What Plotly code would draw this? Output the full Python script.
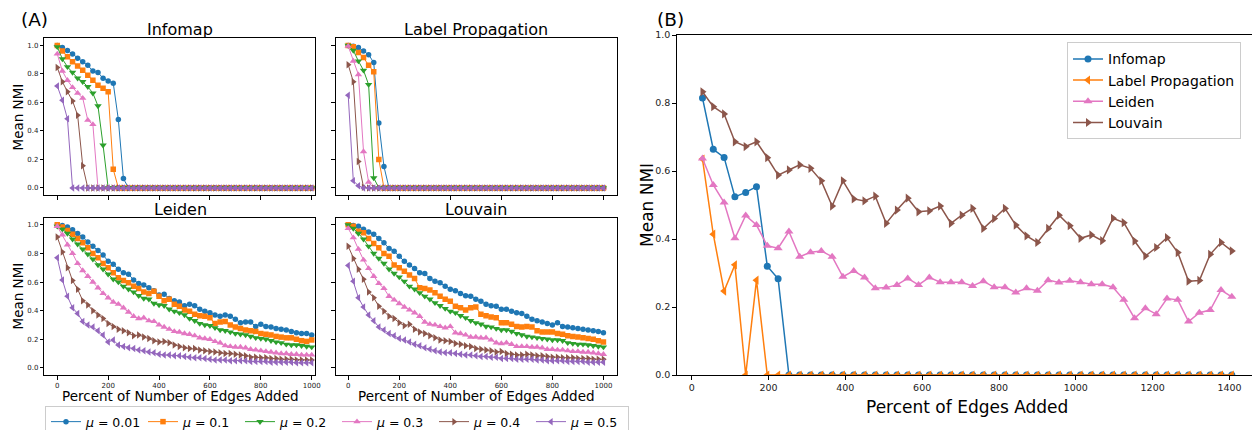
import plotly.graph_objects as go

# The page body adds an 8 px margin, so the figure is drawn 8 px smaller
# and every target pixel position is shifted by that offset.
VW, VH = 1260, 430
OFF = 8
W, H = VW - OFF, VH - OFF
FONT = "DejaVu Sans"

# ---------------- data ----------------
x_a = list(range(0, 1001, 20))
x_b = [round(28.12 * k, 1) for k in range(1, 51)]

mu_labels = ["0.01", "0.1", "0.2", "0.3", "0.4", "0.5"]
colors = ["#1f77b4", "#ff7f0e", "#2ca02c", "#e377c2", "#8c564b", "#9467bd"]
symbols = ["circle", "square", "triangle-down", "triangle-up", "triangle-right", "triangle-left"]

infomap_a = [
    [1.0, 0.985, 0.965, 0.94, 0.91, 0.885, 0.86, 0.82, 0.81, 0.77, 0.75, 0.735, 0.48, 0.065] + [0.0] * 37,
    [1.0, 0.96, 0.92, 0.885, 0.855, 0.825, 0.79, 0.755, 0.72, 0.70, 0.675, 0.13] + [0.0] * 39,
    [0.99, 0.905, 0.85, 0.81, 0.77, 0.745, 0.71, 0.665, 0.575, 0.30] + [0.0] * 41,
    [0.94, 0.82, 0.755, 0.705, 0.665, 0.63, 0.475, 0.445] + [0.0] * 43,
    [0.845, 0.745, 0.675, 0.61, 0.51, 0.155] + [0.0] * 45,
    [0.715, 0.615, 0.485] + [0.0] * 48,
]

labelprop_a = [
    [1.0, 0.995, 0.985, 0.96, 0.935, 0.88, 0.455, 0.15] + [0.0] * 43,
    [1.0, 0.99, 0.95, 0.915, 0.86, 0.815, 0.20] + [0.0] * 44,
    [1.0, 0.965, 0.89, 0.825, 0.725, 0.07] + [0.0] * 45,
    [0.995, 0.89, 0.795, 0.255, 0.04] + [0.0] * 46,
    [0.865, 0.745, 0.185, 0.005] + [0.0] * 47,
    [0.65, 0.05, 0.015] + [0.0] * 48,
]

leiden_a = [
    [1.0, 0.995, 0.985, 0.965, 0.94, 0.915, 0.88, 0.85, 0.82, 0.79, 0.745, 0.725, 0.69, 0.665, 0.655,
     0.615, 0.59, 0.58, 0.56, 0.54, 0.51, 0.515, 0.485, 0.47, 0.46, 0.435, 0.445, 0.435, 0.41, 0.395,
     0.385, 0.37, 0.36, 0.37, 0.36, 0.34, 0.315, 0.32, 0.32, 0.29, 0.305, 0.29, 0.285, 0.275, 0.27,
     0.265, 0.255, 0.245, 0.24, 0.24, 0.23],
    [1.0, 0.985, 0.96, 0.935, 0.905, 0.875, 0.84, 0.80, 0.77, 0.73, 0.70, 0.665, 0.63, 0.61, 0.595,
     0.57, 0.555, 0.53, 0.52, 0.535, 0.50, 0.47, 0.48, 0.445, 0.43, 0.405, 0.395, 0.375, 0.365, 0.36,
     0.35, 0.31, 0.32, 0.325, 0.30, 0.285, 0.275, 0.265, 0.26, 0.255, 0.24, 0.235, 0.23, 0.22, 0.215,
     0.21, 0.21, 0.20, 0.19, 0.185, 0.195],
    [0.99, 0.97, 0.94, 0.90, 0.865, 0.83, 0.795, 0.76, 0.72, 0.69, 0.655, 0.62, 0.60, 0.57, 0.55,
     0.53, 0.505, 0.485, 0.48, 0.45, 0.44, 0.435, 0.41, 0.395, 0.385, 0.37, 0.345, 0.33, 0.31, 0.30,
     0.295, 0.28, 0.265, 0.26, 0.25, 0.24, 0.235, 0.23, 0.22, 0.21, 0.205, 0.20, 0.19, 0.18, 0.175,
     0.165, 0.16, 0.16, 0.155, 0.15, 0.145],
    [0.99, 0.93, 0.86, 0.80, 0.73, 0.68, 0.64, 0.60, 0.56, 0.52, 0.49, 0.46, 0.445, 0.42, 0.39,
     0.36, 0.345, 0.35, 0.33, 0.325, 0.30, 0.285, 0.27, 0.255, 0.25, 0.24, 0.235, 0.225, 0.21, 0.205,
     0.20, 0.185, 0.175, 0.155, 0.15, 0.145, 0.145, 0.14, 0.13, 0.125, 0.12, 0.115, 0.11, 0.105, 0.10,
     0.10, 0.095, 0.095, 0.09, 0.09, 0.09],
    [0.915, 0.81, 0.70, 0.61, 0.55, 0.47, 0.44, 0.40, 0.37, 0.345, 0.31, 0.29, 0.27, 0.26, 0.245,
     0.225, 0.23, 0.215, 0.205, 0.19, 0.18, 0.185, 0.175, 0.16, 0.15, 0.14, 0.135, 0.135, 0.125, 0.12,
     0.115, 0.11, 0.105, 0.10, 0.10, 0.095, 0.09, 0.085, 0.075, 0.075, 0.07, 0.07, 0.065, 0.065, 0.06,
     0.06, 0.06, 0.055, 0.055, 0.055, 0.055],
    [0.77, 0.615, 0.50, 0.42, 0.38, 0.325, 0.30, 0.285, 0.26, 0.23, 0.18, 0.195, 0.16, 0.15, 0.14,
     0.135, 0.125, 0.12, 0.11, 0.105, 0.095, 0.09, 0.09, 0.085, 0.085, 0.08, 0.075, 0.07, 0.07, 0.065,
     0.06, 0.055, 0.055, 0.055, 0.05, 0.05, 0.05, 0.05, 0.045, 0.045, 0.045, 0.045, 0.04, 0.04, 0.04,
     0.04, 0.04, 0.035, 0.035, 0.035, 0.035],
]

louvain_a = [
    [1.0, 0.995, 0.99, 0.97, 0.95, 0.935, 0.905, 0.875, 0.835, 0.815, 0.78, 0.745, 0.72, 0.695, 0.665,
     0.66, 0.625, 0.605, 0.595, 0.57, 0.55, 0.54, 0.52, 0.505, 0.5, 0.48, 0.465, 0.445, 0.435, 0.43,
     0.41, 0.41, 0.395, 0.385, 0.38, 0.36, 0.34, 0.33, 0.32, 0.31, 0.30, 0.315, 0.29, 0.285, 0.28,
     0.275, 0.27, 0.265, 0.26, 0.255, 0.245],
    [1.0, 0.99, 0.955, 0.945, 0.905, 0.87, 0.84, 0.80, 0.78, 0.72, 0.70, 0.675, 0.65, 0.625, 0.56,
     0.555, 0.545, 0.525, 0.5, 0.48, 0.465, 0.43, 0.42, 0.405, 0.42, 0.425, 0.375, 0.365, 0.355, 0.35,
     0.315, 0.315, 0.305, 0.29, 0.285, 0.29, 0.285, 0.26, 0.25, 0.25, 0.25, 0.24, 0.235, 0.225, 0.22,
     0.215, 0.21, 0.205, 0.2, 0.19, 0.18],
    [1.0, 0.975, 0.94, 0.9, 0.85, 0.80, 0.765, 0.73, 0.69, 0.66, 0.635, 0.605, 0.57, 0.55, 0.525,
     0.5, 0.48, 0.455, 0.435, 0.415, 0.395, 0.385, 0.365, 0.35, 0.33, 0.315, 0.305, 0.29, 0.285, 0.275,
     0.265, 0.265, 0.255, 0.24, 0.23, 0.22, 0.215, 0.21, 0.205, 0.2, 0.195, 0.195, 0.19, 0.175, 0.17,
     0.165, 0.165, 0.16, 0.155, 0.15, 0.145],
    [0.975, 0.91, 0.83, 0.755, 0.695, 0.64, 0.59, 0.555, 0.5, 0.475, 0.45, 0.425, 0.405, 0.385, 0.36,
     0.32, 0.305, 0.3, 0.29, 0.28, 0.29, 0.245, 0.24, 0.23, 0.215, 0.215, 0.21, 0.21, 0.195, 0.175,
     0.17, 0.175, 0.165, 0.15, 0.15, 0.15, 0.145, 0.145, 0.14, 0.13, 0.13, 0.125, 0.125, 0.12, 0.115,
     0.115, 0.11, 0.11, 0.105, 0.1, 0.095],
    [0.85, 0.765, 0.69, 0.62, 0.53, 0.49, 0.43, 0.395, 0.36, 0.345, 0.315, 0.295, 0.305, 0.27, 0.25,
     0.24, 0.225, 0.21, 0.195, 0.19, 0.185, 0.17, 0.165, 0.155, 0.15, 0.135, 0.13, 0.125, 0.12, 0.11,
     0.115, 0.1, 0.095, 0.09, 0.09, 0.095, 0.09, 0.085, 0.085, 0.08, 0.075, 0.075, 0.07, 0.07, 0.07,
     0.065, 0.065, 0.065, 0.06, 0.06, 0.06],
    [0.715, 0.605, 0.49, 0.425, 0.37, 0.33, 0.285, 0.265, 0.24, 0.225, 0.205, 0.195, 0.18, 0.165, 0.155,
     0.14, 0.13, 0.12, 0.11, 0.105, 0.105, 0.1, 0.095, 0.09, 0.09, 0.085, 0.08, 0.08, 0.075, 0.075,
     0.065, 0.065, 0.065, 0.06, 0.06, 0.06, 0.06, 0.055, 0.055, 0.05, 0.05, 0.05, 0.05, 0.045, 0.045,
     0.045, 0.045, 0.04, 0.04, 0.04, 0.04],
]

b_names = ["Infomap", "Label Propagation", "Leiden", "Louvain"]
b_colors = ["#1f77b4", "#ff7f0e", "#e377c2", "#8c564b"]
b_symbols = ["circle", "triangle-left", "triangle-up", "triangle-right"]
b_infomap = [0.815, 0.664, 0.64, 0.524, 0.537, 0.554, 0.32, 0.283] + [0.0] * 42
b_labelprop = [0.635, 0.414, 0.247, 0.324, 0.0, 0.279] + [0.0] * 44
b_leiden = [0.637, 0.559, 0.507, 0.402, 0.469, 0.441, 0.38, 0.373, 0.422, 0.348,
            0.361, 0.365, 0.348, 0.289, 0.306, 0.287, 0.255, 0.257, 0.265, 0.284,
            0.265, 0.287, 0.273, 0.273, 0.273, 0.262, 0.276, 0.258, 0.258, 0.243,
            0.255, 0.248, 0.279, 0.272, 0.277, 0.273, 0.267, 0.267, 0.258, 0.221,
            0.167, 0.196, 0.179, 0.225, 0.221, 0.157, 0.183, 0.191, 0.25, 0.23]
b_louvain = [0.833, 0.789, 0.768, 0.686, 0.672, 0.686, 0.639, 0.588, 0.603, 0.618,
             0.608, 0.571, 0.497, 0.571, 0.518, 0.512, 0.526, 0.446, 0.485, 0.52,
             0.48, 0.483, 0.497, 0.446, 0.47, 0.49, 0.431, 0.46, 0.49, 0.441,
             0.409, 0.39, 0.431, 0.47, 0.439, 0.402, 0.412, 0.395, 0.461, 0.448,
             0.394, 0.35, 0.375, 0.404, 0.36, 0.276, 0.278, 0.355, 0.39, 0.365]
b_series = [b_infomap, b_labelprop, b_leiden, b_louvain]

a_titles = ["Infomap", "Label Propagation", "Leiden", "Louvain"]
a_data = [infomap_a, labelprop_a, leiden_a, louvain_a]

# ---------------- figure ----------------
fig = go.Figure()

axis_ids = ["", "2", "3", "4"]
for p, (data, ax) in enumerate(zip(a_data, axis_ids)):
    for i in range(6):
        sz = 5.5 if i < 2 else 6.5
        fig.add_trace(go.Scatter(
            x=x_a, y=data[i], mode="lines+markers",
            name="<i>\u03bc</i> = " + mu_labels[i],
            line=dict(color=colors[i], width=1),
            marker=dict(symbol=symbols[i], size=sz, color=colors[i]),
            xaxis="x" + ax, yaxis="y" + ax,
            showlegend=(p == 0), legend="legend",
        ))

for j in range(4):
    fig.add_trace(go.Scatter(
        x=x_b, y=b_series[j], mode="lines+markers", name=b_names[j],
        line=dict(color=b_colors[j], width=1.5),
        marker=dict(symbol=b_symbols[j], size=7 if j == 0 else 8, color=b_colors[j]),
        xaxis="x5", yaxis="y5", legend="legend2",
    ))


def fx(px):
    return (px - OFF) / W


def fy(py):
    return 1 - (py - OFF) / H


def xd(l, r):
    return [fx(l), fx(r)]


def yd(t, b):
    return [fy(b), fy(t)]


base = dict(showline=True, linecolor="black", linewidth=1, mirror=True,
            ticks="outside", ticklen=3.5, tickwidth=0.8, tickcolor="black",
            showgrid=False, zeroline=False)
small_font = dict(family=FONT, size=7, color="#222")

ticks_x_a = [0, 200, 400, 600, 800, 1000]
ticks_y = [0.0, 0.2, 0.4, 0.6, 0.8, 1.0]

panels = {
    "": dict(x=(44.3, 315), y=(38.3, 195), xr=[-51, 1013], xl=False, yl=True),
    "2": dict(x=(335.7, 616.7), y=(38.3, 195), xr=[-49, 1052], xl=False, yl=False),
    "3": dict(x=(44.3, 315), y=(217.7, 375), xr=[-51, 1013], xl=True, yl=True),
    "4": dict(x=(335.7, 616.7), y=(217.7, 375), xr=[-49, 1052], xl=True, yl=False),
}
layout_axes = {}
for ax, p in panels.items():
    layout_axes["xaxis" + ax] = dict(base, domain=xd(*p["x"]), range=p["xr"], tickvals=ticks_x_a,
                                     showticklabels=p["xl"], tickfont=small_font,
                                     anchor="y" + ax)
    layout_axes["yaxis" + ax] = dict(base, domain=yd(*p["y"]), range=[-0.05, 1.05], tickvals=ticks_y,
                                     tickformat=".1f", showticklabels=p["yl"], tickfont=small_font,
                                     anchor="x" + ax)

mid_font = dict(family=FONT, size=9.5, color="#222")
layout_axes["xaxis5"] = dict(base, domain=xd(676.7, 1258.3), range=[-39, 1475],
                             tickvals=[0, 200, 400, 600, 800, 1000, 1200, 1400],
                             tickfont=mid_font, anchor="y5")
layout_axes["yaxis5"] = dict(base, domain=yd(35, 375), range=[0, 1.0], tickvals=ticks_y,
                             tickformat=".1f", tickfont=mid_font, anchor="x5")

annotations = []


def ann(text, x, y, size, angle=0):
    annotations.append(dict(text=text, x=fx(x), y=fy(y), xref="paper", yref="paper",
                            showarrow=False, textangle=angle, xanchor="center", yanchor="middle",
                            font=dict(family=FONT, size=size, color="black")))


ann("(A)", 34, 19.5, 18.5)
ann("(B)", 670, 20, 18.5)
ann("Infomap", 180, 29, 16)
ann("Label Propagation", 476, 29, 16)
ann("Leiden", 180, 209, 16)
ann("Louvain", 476, 209, 16)
ann("Mean NMI", 17.5, 117, 13.5, -90)
ann("Mean NMI", 17.5, 296, 13.5, -90)
ann("Percent of Number of Edges Added", 180, 396, 13.5)
ann("Percent of Number of Edges Added", 476, 396, 13.5)
ann("Percent of Edges Added", 967, 407, 17)
ann("Mean NMI", 647, 205, 17, -90)

fig.update_layout(
    width=W, height=H, margin=dict(l=0, r=0, t=0, b=0, autoexpand=False),
    paper_bgcolor="white", plot_bgcolor="white",
    font=dict(family=FONT, color="black"),
    annotations=annotations,
    legend=dict(orientation="h", x=fx(45), y=fy(406), xanchor="left", yanchor="top",
                xref="container", yref="container",
                bordercolor="#cccccc", borderwidth=1, bgcolor="white",
                font=dict(family=FONT, size=12.5, color="black"),
                entrywidth=52, entrywidthmode="pixels"),
    legend2=dict(x=fx(1067), y=fy(42.3), xanchor="left", yanchor="top",
                 xref="container", yref="container",
                 bordercolor="#cccccc", borderwidth=1, bgcolor="rgba(255,255,255,0.8)",
                 font=dict(family=FONT, size=14, color="black")),
    **layout_axes,
)

fig.write_html("out.html")
